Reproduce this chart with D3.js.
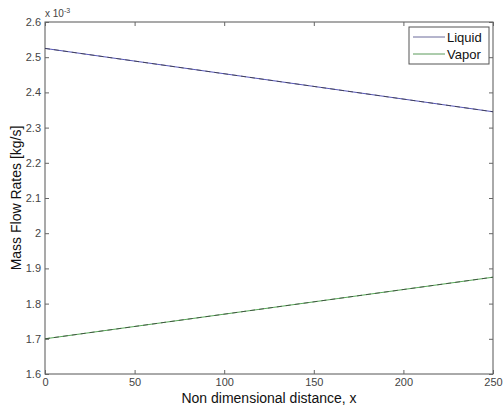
<!DOCTYPE html>
<html><head><meta charset="utf-8">
<script src="https://cdn.jsdelivr.net/npm/d3@7"></script>
<style>body{margin:0;background:#fff}svg{display:block}</style>
</head><body>
<svg id="c" width="503" height="410"></svg>
<script>
const xDomain = [0, 250];
const yDomain = [1.6, 2.6];
const xTicks = [0, 50, 100, 150, 200, 250];
const yTicks = [1.6, 1.7, 1.8, 1.9, 2.0, 2.1, 2.2, 2.3, 2.4, 2.5, 2.6];
const xs = [0, 250];
const liquid = [2.525, 2.345];
const vapor = [1.70, 1.875];
const seriesNames = ["Liquid", "Vapor"];

const svg = d3.select("#c");
const L = 45, R = 493, T = 22, B = 374;
const x = d3.scaleLinear().domain(xDomain).range([L, R]);
const y = d3.scaleLinear().domain(yDomain).range([B, T]);
const fmt = d => d3.format("")(+d.toFixed(1));
const font = "Arial, 'Liberation Sans', sans-serif";

// frame
svg.append("rect").attr("x", L).attr("y", T).attr("width", R - L).attr("height", B - T)
  .attr("fill", "none").attr("stroke", "#555").attr("stroke-width", 1);

const ax = svg.append("g").attr("transform", `translate(0,${B})`)
  .call(d3.axisBottom(x).tickValues(xTicks).tickSize(-4).tickPadding(4).tickFormat(d3.format("d")));
const ay = svg.append("g").attr("transform", `translate(${L},0)`)
  .call(d3.axisLeft(y).tickValues(yTicks).tickSize(-4).tickPadding(4).tickFormat(fmt));
const ax2 = svg.append("g").attr("transform", `translate(0,${T})`)
  .call(d3.axisTop(x).tickValues(xTicks).tickSize(-4).tickFormat(""));
const ay2 = svg.append("g").attr("transform", `translate(${R},0)`)
  .call(d3.axisRight(y).tickValues(yTicks).tickSize(-4).tickFormat(""));
[ax, ay, ax2, ay2].forEach(g => {
  g.select(".domain").remove();
  g.selectAll("line").attr("stroke", "#666");
  g.selectAll("text").attr("font-family", font).attr("font-size", 11).attr("fill", "#444");
});

// exponent
const ex = svg.append("text").attr("x", L).attr("y", 17).attr("font-family", font)
  .attr("font-size", 10).attr("fill", "#444");
ex.append("tspan").text("x 10");
ex.append("tspan").attr("font-size", 7).attr("dy", -4).text("-3");

// lines
const line = d3.line().x((d, i) => x(xs[i])).y(d => y(d));
const series = [{v: liquid, c: "#5555b8"}, {v: vapor, c: "#55a855"}];
series.forEach(s => {
  svg.append("path").datum(s.v).attr("d", line).attr("fill", "none").attr("stroke", s.c).attr("stroke-width", 1);
  svg.append("path").datum(s.v).attr("d", line).attr("fill", "none").attr("stroke", "#333")
    .attr("stroke-width", 1).attr("stroke-dasharray", "5,4").attr("opacity", 0.7);
});

// legend
const lg = svg.append("g");
lg.append("rect").attr("x", 409).attr("y", 27).attr("width", 80).attr("height", 37)
  .attr("fill", "#fff").attr("stroke", "#555");
const legCols = ["#6a6a9a", "#5a9a5a"];
seriesNames.forEach((n, i) => {
  const yy = 37 + i * 17;
  lg.append("line").attr("x1", 413).attr("x2", 445).attr("y1", yy).attr("y2", yy)
    .attr("stroke", legCols[i]).attr("stroke-width", 1);
  lg.append("text").attr("x", 447).attr("y", yy + 5).attr("font-family", font)
    .attr("font-size", 13).attr("fill", "#111").text(n);
});

// axis labels
svg.append("text").attr("x", (L + R) / 2).attr("y", 403).attr("text-anchor", "middle")
  .attr("font-family", font).attr("font-size", 14).attr("fill", "#111").text("Non dimensional distance, x");
svg.append("text").attr("transform", `translate(21,${(T + B) / 2}) rotate(-90)`).attr("text-anchor", "middle")
  .attr("font-family", font).attr("font-size", 14).attr("fill", "#111").text("Mass Flow Rates [kg/s]");
</script>
</body></html>
